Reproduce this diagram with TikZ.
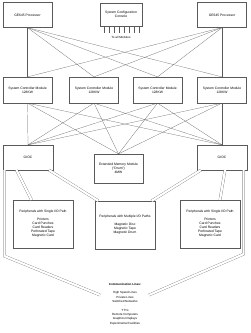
\documentclass[tikz,border=0pt]{standalone}
\usepackage{fontspec}
\setmainfont{Liberation Sans}
\usetikzlibrary{calc}
\definecolor{edgecolor}{RGB}{90, 90, 90}

\begin{document}
\begin{tikzpicture}[
    x=1mm, y=-1mm,
    module/.style={draw=edgecolor, line width=0.6pt, minimum width=49mm,
                   minimum height=25mm, align=center, inner sep=1pt,
                   font=\fontsize{9.5}{11.5}\selectfont},
    link/.style={edgecolor, line width=0.6pt},
    duallink/.style={edgecolor, line width=0.6pt, double, double distance=2.2mm},
  ]
  \useasboundingbox (0,0) rectangle (250,333);

  \def\toprow{15}   % centre of processor row
  \def\scmrow{90}   % centre of controller row

  % --- Processors and console ---
  \node[module] (cpuA) at (27.5,\toprow) {GE645 Processor};
  \node[module, minimum width=42mm, minimum height=23mm] (console) at (121,14.5)
    {System Configuration\\Console};
  \node[module] (cpuB) at (222,\toprow) {GE645 Processor};

  % ticks under the console
  \foreach \i in {0,...,7} {
    \draw[link] ($(console.south west)+(4+5*\i,0)$) -- ++(0,6.5);
  }
  \node[font=\fontsize{8.5}{10}\selectfont] (allmods) at (121,37.5) {To all Modules};

  % --- System controllers ---
  \foreach \name/\x in {scmA/27.5, scmB/94, scmC/157.5, scmD/222} {
    \node[module, minimum height=26mm] (\name) at (\x,\scmrow)
      {System Controller Module\\128KW};
  }

  % --- I/O controllers and drum ---
  \node[module, minimum width=50mm] (giocA) at (28,157.5) {GIOC};
  \node[module, minimum height=29mm] (drum) at (118.5,168.5)
    {Extended Memory Module\\(``Drum'')\\4MW};
  \node[module, minimum width=50mm] (giocB) at (222,157.5) {GIOC};

  % --- Peripherals ---
  \node[module, minimum width=60mm, minimum height=48mm] (perA) at (43,224)
    {Peripherals with Single I/O Path\\[4mm]Printers\\Card Punches\\Card Readers\\Perforated Tape\\Magnetic Card};
  \node[module, minimum width=60mm, minimum height=48mm] (perB) at (125,225)
    {Peripherals with Multiple I/O Paths\\[4mm]Magnetic Disc\\Magnetic Tape\\Magnetic Drum};
  \node[module, minimum width=60mm, minimum height=48mm] (perC) at (210,224)
    {Peripherals with Single I/O Path\\[4mm]Printers\\Card Punches\\Card Readers\\Perforated Tape\\Magnetic Card};

  % --- Communication lines ---
  \node[align=center, anchor=north, inner sep=0pt, font=\fontsize{8.5}{12.5}\selectfont] (links) at (125,283)
    {\textbf{Communication Lines:}\\[4mm]High Speed Lines\\Private Lines\\Switched Networks\\-\\TTYs\\Remote Computers\\Graphics Displays\\Experimental Facilities};
  \coordinate (linkW) at (100,295);
  \coordinate (linkE) at (149,295);

  % processors to controllers
  \foreach \c in {cpuA, cpuB} {
    \foreach \s in {scmA, scmB, scmC, scmD} {
      \draw[link] (\c.south) -- (\s.north);
    }
  }
  % controllers to GIOCs and drum
  \foreach \s in {scmA, scmB, scmC, scmD} {
    \draw[link] (\s.south) -- (giocA.north);
    \draw[link] (\s.south) -- (drum.north);
    \draw[link] (\s.south) -- (giocB.north);
  }

  % I/O paths
  \draw[duallink] ($(giocA.south)+(-11.5,0)$) -- ($(perA.north)+(-11.5,0)$);
  \draw[duallink] ($(giocA.south east)+(-4,0)$) -- ($(perB.north west)+(3.5,0)$);
  \draw[duallink] ($(giocB.south west)+(4,0)$) -- ($(perB.north east)+(-3.5,0)$);
  \draw[duallink] ($(giocB.south)+(3,0)$) -- ($(perC.north)+(10,0)$);
  \draw[duallink] ($(giocA.south west)+(1.6,0)$) -- ++(0,86) -- (linkW);
  \draw[duallink] ($(giocB.south east)+(-3.5,0)$) -- ++(0,84) -- (linkE);

\end{tikzpicture}
\end{document}
